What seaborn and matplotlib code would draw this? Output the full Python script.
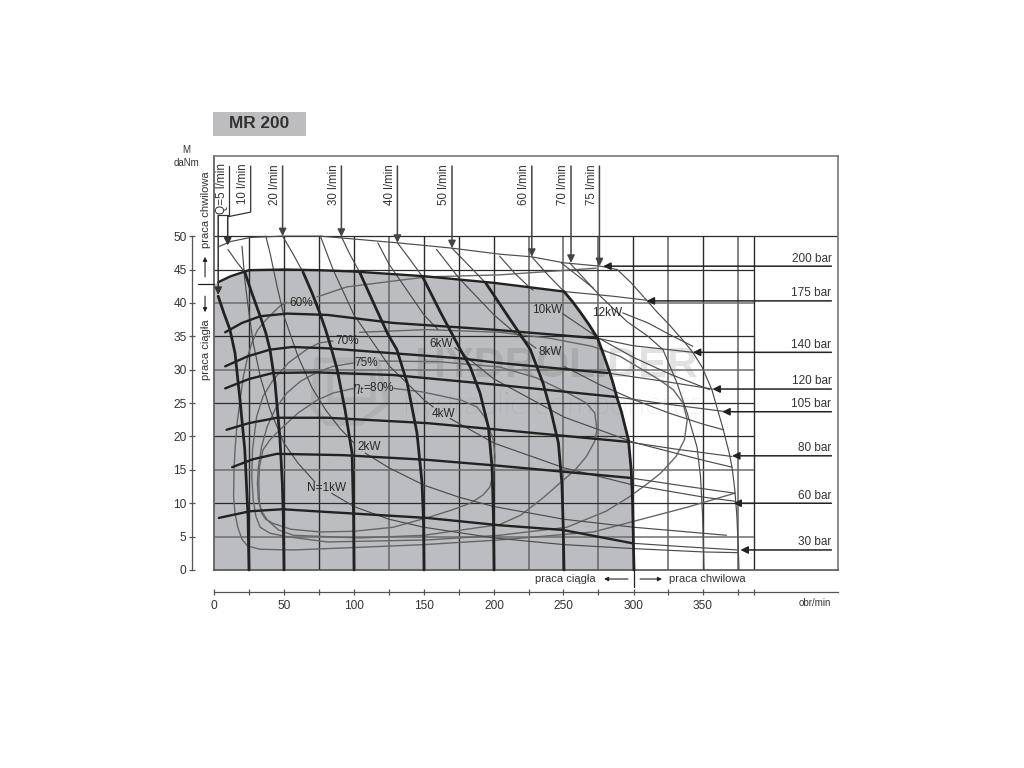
import matplotlib
matplotlib.use("Agg")
import matplotlib.pyplot as plt
import seaborn as sns

sns.set_theme(style="white")
plt.rcParams['font.family'] = ['Liberation Sans', 'DejaVu Sans']
plt.rcParams['mathtext.fontset'] = 'custom'
plt.rcParams['mathtext.it'] = 'DejaVu Sans:italic'
plt.rcParams['mathtext.rm'] = 'Liberation Sans'

TITLE = "MR 200"
X_MAX, Y_MAX = 445.7, 62
X_TICKS = [0, 50, 100, 150, 200, 249.5, 300, 349]
X_LABELS = ["0", "50", "100", "150", "200", "250", "300", "350"]
X_MINOR = [25, 75, 125, 175, 225, 274, 324, 374, 386]
Y_TICKS = [0, 5, 10, 15, 20, 25, 30, 35, 40, 45, 50]

# pressure curves, thick part inside the zone
p175_x = [3, 12, 25, 50, 75, 100, 150, 200, 250]
p175_y = [43.1, 44, 44.9, 45, 44.9, 44.7, 44, 43, 41.7]
p140_x = [8, 20, 33, 52, 81, 128, 199, 274]
p140_y = [35.6, 37, 38, 38.4, 38.2, 37, 36, 34.7]
p120_x = [8, 24, 40, 56, 81, 176, 204, 281]
p120_y = [30.5, 32, 33, 33.4, 33.2, 31.7, 31, 29.5]
p105_x = [8, 25, 42, 73, 128, 204, 288]
p105_y = [27.2, 28.6, 29.5, 29.6, 29.2, 27.7, 25.9]
p80_x = [9, 25, 45, 81, 152, 204, 295]
p80_y = [21, 22, 22.8, 22.8, 22, 21, 19.2]
p60_x = [13, 28, 45, 92, 152, 204, 297]
p60_y = [15.4, 16.6, 17.4, 17.2, 16.5, 15.6, 13.8]
p30_x = [3.5, 25.7, 49, 80, 152, 204, 249, 299]
p30_y = [7.8, 8.8, 9.1, 8.7, 7.8, 6.7, 6, 4]

# speed curves, thick
n5_x = [3, 7, 11.4, 15, 18.6, 22, 24.3, 25]
n5_y = [41, 38.5, 36, 32.5, 25.4, 18, 8, 0]
n50_x = [22, 27, 33, 37, 40, 43.6, 47, 48.8, 49.5, 50]
n50_y = [44.6, 41.5, 38, 35.5, 33, 28, 20, 13, 8, 0]
n100_x = [63.6, 70, 75.7, 80, 84, 88, 93.6, 98.6, 99.7, 100]
n100_y = [44.6, 41.5, 38.4, 35.8, 33, 30, 24, 17.5, 8, 0]
n150_x = [104, 115, 124, 130.6, 138, 145, 148.6, 149.7, 150]
n150_y = [44.6, 39.5, 35.4, 33, 28, 20.5, 13, 7, 0]
n200_x = [149, 162, 176, 183, 190, 196, 198.6, 199.6, 200]
n200_y = [43.9, 38.5, 33, 30.4, 26.5, 21.4, 15.4, 8, 0]
n250_x = [194, 210, 226, 235, 241, 246, 248.5, 249.5, 250]
n250_y = [43, 38, 33, 28, 23.5, 19, 13, 6, 0]
n300_x = [250, 256, 262, 268, 274, 278, 282, 285, 288, 291, 293, 296, 298, 299, 300]
n300_y = [41.7, 40.2, 38.5, 36.7, 34.7, 32.4, 30, 28, 25.7, 23.7, 22, 19.5, 15, 10, 0]

# shaded continuous-duty zone
zone_x = [0] + p175_x + n300_x[1:]
zone_y = [42.9] + p175_y + n300_y[1:]

# thin continuations of pressure curves
t200_x = [3, 12, 26, 49, 76, 131, 170, 204, 227, 250, 276, 288, 298, 309, 317, 324, 335, 342, 348.6, 355.6, 363.4, 368, 370, 372, 373.5, 374.5, 375]
t200_y = [48.4, 49.2, 49.8, 50, 50, 49, 48.2, 47.3, 46.9, 46, 45.5, 45, 43, 40.4, 38.5, 37, 34.4, 32.6, 30.4, 27, 21.3, 17.5, 15.4, 12, 8, 3, 0]
t175_x = [250, 285, 309]
t175_y = [41.7, 41, 40.4]
t140_x = [274, 299, 342]
t140_y = [34.7, 33.6, 32.6]
t120_x = [281, 320, 356]
t120_y = [29.5, 28.3, 27.1]
t105_x = [288, 325, 366]
t105_y = [25.9, 24.8, 23.7]
t80_x = [295, 330, 370]
t80_y = [19.2, 18.1, 17]
t60_x = [297, 335, 372]
t60_y = [13.8, 12.6, 11.5]
t30_x = [299, 335, 374]
t30_y = [4, 3.5, 3]

# thin flow curves above the zone
q10_x = [10, 16, 22]
q10_y = [48, 46.2, 44.6]
q20_x = [49, 56, 63.6]
q20_y = [50, 47.5, 44.6]
q30_x = [91, 97, 104]
q30_y = [49.9, 47.3, 44.6]
q40_x = [131, 140, 149]
q40_y = [49, 46.5, 43.9]
q50_x = [170, 182, 194]
q50_y = [48.2, 45.6, 43]
q60_x = [227, 238, 250]
q60_y = [46.9, 44.3, 41.7]
q70_x = [254, 276, 295, 310, 320.7, 330.7, 338, 345, 347.5, 349, 350]
q70_y = [46, 41, 37.2, 35, 33, 28, 23.5, 18.4, 14, 8, 0]

# power curves, thin, broken where a label sits
kw1a_x = [20, 22, 24, 28, 33, 40, 50, 60, 72]
kw1a_y = [48.5, 43.5, 40, 34, 29, 24, 19, 16, 13.2]
kw1b_x = [84, 100, 125, 150, 200, 250, 300, 350, 374]
kw1b_y = [11.5, 9.5, 7.6, 6.4, 4.8, 3.8, 3.2, 2.7, 2.6]
kw2a_x = [37, 40, 45, 50, 60, 70, 80, 90, 100]
kw2a_y = [50, 47.5, 42.5, 38, 32, 27.3, 23.9, 21.2, 19]
kw2b_x = [108, 125, 150, 175, 200, 250, 300, 366]
kw2b_y = [17.5, 15.3, 12.7, 10.9, 9.5, 7.6, 6.4, 5.2]
kw4a_x = [76, 85, 100, 125, 150, 156.6]
kw4a_y = [50, 45, 38.2, 30.6, 25.5, 24.4]
kw4b_x = [168.6, 200, 250, 300, 350, 372]
kw4b_y = [22.7, 19, 15.3, 12.7, 10.9, 10.3]
kw6a_x = [117, 125, 150, 160]
kw6a_y = [49, 45.8, 38.2, 36]
kw6b_x = [172, 200, 250, 300, 350, 370]
kw6b_y = [33.3, 28.6, 22.9, 19.1, 16.4, 15.4]
kw8a_x = [159, 175, 200, 215, 230]
kw8a_y = [48, 43.7, 38.2, 35.5, 33.2]
kw8b_x = [250, 275, 300, 325, 350, 364]
kw8b_y = [30.5, 27.8, 25.5, 23.5, 21.8, 21]
kw10a_x = [204, 215, 225, 228]
kw10a_y = [47, 44.4, 42.4, 41.9]
kw10b_x = [249, 275, 300, 325, 354]
kw10b_y = [38.4, 34.7, 31.8, 29.4, 27]
kw12a_x = [248, 262, 271]
kw12a_y = [46, 43.7, 42.2]
kw12b_x = [292, 310, 325, 342]
kw12b_y = [38.5, 37, 35.3, 33.5]

# efficiency curves
e60a_x = [52, 47, 42, 36, 31, 27, 24, 21, 18.6, 16.5, 15, 14.3, 14, 15, 17, 20, 24, 33, 56.6, 104, 150, 204, 271, 338, 372]
e60a_y = [40.1, 39.5, 38.5, 37.2, 35.9, 34, 31.9, 29, 25.4, 22, 18, 15, 11, 8.5, 6.4, 4.6, 3.6, 3.1, 3, 3.4, 3.8, 4.5, 5.7, 9.4, 11.5]
e60b_x = [73.6, 95, 152, 204, 273]
e60b_y = [40.9, 42.4, 43.9, 44.2, 45.2]
e70a_x = [85, 75, 66, 53, 42, 35, 30.5, 27.5, 27, 28, 30, 33, 40, 52, 81, 152, 204, 252, 280, 297, 310, 319, 330, 336, 338, 335, 328, 318, 306, 290, 270, 240, 204, 152, 104]
e70a_y = [34.3, 34, 33, 31, 28.4, 26, 23, 18, 14, 10.5, 8, 6.4, 5.5, 5, 4.2, 4.5, 5.2, 6.4, 8.8, 11, 13, 14.5, 17, 19.5, 22.5, 25, 27, 28.5, 30, 32, 33.5, 34.7, 35.6, 36, 35.6]
e75a_x = [99.6, 85, 73.6, 62, 52, 44, 38, 34, 31.7, 31, 31.7, 34, 38, 46, 56.6, 104, 150, 204, 219, 235, 247, 258, 266, 272, 273.5, 272, 266, 252, 230, 204, 160, 118]
e75a_y = [31, 30.5, 29.6, 28.3, 26.5, 24.2, 21.5, 18.5, 15.4, 13, 10.5, 8.8, 7.5, 6, 5.2, 4.8, 5.2, 6.8, 8.2, 10.8, 13, 15, 17, 19.3, 21, 23.5, 25, 26.6, 28.8, 30.4, 31.2, 31.3]
e80a_x = [99.6, 85, 73.3, 60, 47, 40, 35, 32.5, 32, 32.5, 34, 37, 42, 55, 76, 100, 128, 155, 170, 183, 192, 197, 200, 200.7, 199.5, 197, 193, 188, 177, 164, 148, 128]
e80a_y = [27.2, 26.5, 25.4, 23.5, 21, 19.5, 18, 15.5, 13, 10, 8.5, 7.6, 7, 6.1, 5.7, 5.8, 6.4, 8, 9, 10, 11.2, 12.4, 15, 17, 19.5, 21, 23, 24.4, 25.4, 26, 26.7, 27.2]

THICK_SPEED = [(n5_x, n5_y), (n50_x, n50_y), (n100_x, n100_y), (n150_x, n150_y),
               (n200_x, n200_y), (n250_x, n250_y), (n300_x, n300_y)]
THICK_PRESS = [(p175_x, p175_y), (p140_x, p140_y), (p120_x, p120_y), (p105_x, p105_y),
               (p80_x, p80_y), (p60_x, p60_y), (p30_x, p30_y)]
THIN = [(t200_x, t200_y), (t175_x, t175_y), (t140_x, t140_y), (t120_x, t120_y), (t105_x, t105_y),
        (t80_x, t80_y), (t60_x, t60_y), (t30_x, t30_y), (q10_x, q10_y), (q20_x, q20_y),
        (q30_x, q30_y), (q40_x, q40_y), (q50_x, q50_y), (q60_x, q60_y), (q70_x, q70_y),
        (kw1a_x, kw1a_y), (kw1b_x, kw1b_y), (kw2a_x, kw2a_y), (kw2b_x, kw2b_y),
        (kw4a_x, kw4a_y), (kw4b_x, kw4b_y), (kw6a_x, kw6a_y), (kw6b_x, kw6b_y),
        (kw8a_x, kw8a_y), (kw8b_x, kw8b_y), (kw10a_x, kw10a_y), (kw10b_x, kw10b_y),
        (kw12a_x, kw12a_y), (kw12b_x, kw12b_y)]
LOOPS = [(e60a_x, e60a_y), (e60b_x, e60b_y), (e70a_x, e70a_y), (e75a_x, e75a_y), (e80a_x, e80a_y)]

# flow arrows
flow_labels = ["20 l/min", "30 l/min", "40 l/min", "50 l/min", "60 l/min", "70 l/min", "75 l/min"]
flow_x = [49, 91, 131, 170, 227, 255, 275.3]
flow_tip = [50, 49.9, 49, 48.2, 46.9, 46, 45.5]
q5_path_x = [10.7, 10.7, 3, 3]
q5_path_y = [60.5, 53.1, 53.1, 41.2]
q10_path_x = [26.2, 26.2, 9.8, 9.8]
q10_path_y = [60.5, 53.6, 52.9, 48.6]

# pressure arrows
bar_labels = ["200 bar", "175 bar", "140 bar", "120 bar", "105 bar", "80 bar", "60 bar", "30 bar"]
bar_y = [45.5, 40.3, 32.6, 27.1, 23.7, 17.1, 10, 3]
bar_tip = [278, 309, 342, 356, 363, 370, 371, 376]

# curve labels
curve_labels = ["N=1kW", "2kW", "4kW", "6kW", "8kW", "10kW", "12kW", "60%", "70%", "75%", r"$\eta_t$=80%"]
curve_lab_x = [80.7, 110.7, 164, 162.5, 240, 238, 281, 62, 95, 109, 114]
curve_lab_y = [12.3, 18.4, 23.4, 33.8, 32.6, 39, 38.5, 40, 34.3, 31, 27.2]

# watermark
logo_x = [73.6, 116.4, 123.6, 104.3, 80.7, 70.7, 73.6]
logo_y = [31.4, 31.4, 25, 22, 22, 24.4, 31.4]
logo_in_x = [83, 113.6, 113.6, 83, 83]
logo_in_y = [29.5, 29.5, 25.4, 25.4, 29.5]

GRID_DARK_X = [25, 50, 75, 100, 150, 175, 200, 299, 349, 386]
GRID_GREY_X = [125, 225, 249.3, 274, 324, 374]
GRID_DARK_Y = [10, 20, 25, 35, 45, 50]
GRID_GREY_Y = [5, 15, 30, 40]

fig = plt.figure(figsize=(10.24, 7.68), dpi=100, facecolor="white")
ax = fig.add_axes([214 / 1024, 198 / 768, 624 / 1024, 414 / 768])
ax.set_xlim(0, X_MAX)
ax.set_ylim(0, Y_MAX)
ax.set_xticks([])
ax.set_yticks([])
for name, s in ax.spines.items():
    s.set_color("#777777" if name in ("top", "right") else "#555555")
    s.set_linewidth(1.2)
    s.set_visible(True)

DARK = "#2b2b2b"
GREY = "#6d6d6d"
ax.fill_between(zone_x, 0, zone_y, color="#bcbdc0", lw=0, zorder=1)

ax.text(244, 30.5, "HYDROLIDER", fontsize=31, weight="bold", color="#555555", alpha=0.17,
        ha="center", va="center", zorder=1.5)
ax.text(242, 24.7, "hydraulic components", fontsize=23, family="Lato", weight="light", color="#555555",
        alpha=0.24, ha="center", va="center", zorder=1.5)
for lx, ly in ((logo_x, logo_y), (logo_in_x, logo_in_y)):
    sns.lineplot(x=lx, y=ly, sort=False, estimator=None, color="#555555", lw=4, alpha=0.12, ax=ax, zorder=1.5)

for v in GRID_DARK_X:
    ax.vlines(v, 0, 50, color=DARK, lw=1.0, zorder=2)
for v in GRID_GREY_X:
    ax.vlines(v, 0, 50, color=GREY, lw=1.2, zorder=2)
for v in GRID_DARK_Y:
    ax.hlines(v, 0, 386, color=DARK, lw=0.9, zorder=2)
for v in GRID_GREY_Y:
    ax.hlines(v, 0, 386, color=GREY, lw=1.1, zorder=2)
ax.hlines(50, 386, X_MAX, color=DARK, lw=0.9, zorder=2)


def curve(pair, lw, color, z):
    line = sns.lineplot(x=pair[0], y=pair[1], sort=False, estimator=None, lw=lw, color=color, ax=ax, zorder=z)
    line.lines[-1].set_solid_joinstyle("round")
    line.lines[-1].set_clip_on(False)


for c in LOOPS:
    curve(c, 1.0, "#666666", 3)
for c in THIN:
    curve(c, 0.85, "#4c4c4c", 3.2)
for c in THICK_PRESS:
    curve(c, 1.7, "#222222", 4)
for c in THICK_SPEED:
    curve(c, 2.0, "#222222", 4.2)


def arrow(x0, y0, x1, y1, color="#222222", lw=1.1, scale=11):
    ax.annotate("", xy=(x1, y1), xytext=(x0, y0), annotation_clip=False, zorder=6,
                arrowprops=dict(arrowstyle="-|>", color=color, lw=lw, mutation_scale=scale,
                                shrinkA=0, shrinkB=0))


for lab, x, tip in zip(flow_labels, flow_x, flow_tip):
    arrow(x, 60.5, x, tip, color="#444444")
    ax.text(x - 1.2, 60.7, lab, rotation=90, ha="right", va="top", fontsize=8.3, color="#333333", zorder=7)

for path in ((q5_path_x, q5_path_y), (q10_path_x, q10_path_y)):
    ax.plot(path[0][:3], path[1][:3], color="#333333", lw=0.9, zorder=5, clip_on=False)
    arrow(path[0][2], path[1][2], path[0][3], path[1][3], color="#333333")
ax.text(9.7, 60.9, "Q=5 l/min", rotation=90, ha="right", va="top", fontsize=8.6, color="#333333")
ax.text(25.2, 60.9, "10 l/min", rotation=90, ha="right", va="top", fontsize=8.3, color="#333333")

for lab, y, tip in zip(bar_labels, bar_y, bar_tip):
    arrow(441, y, tip, y)
    ax.text(441, y + 0.25, lab, ha="right", va="bottom", fontsize=8.5, color="#333333", zorder=7)

for lab, x, y in zip(curve_labels, curve_lab_x, curve_lab_y):
    ax.text(x, y, lab, ha="center", va="center", fontsize=8.5, color="#2a2a2a", zorder=7)

# title box
fig.patches.append(plt.Rectangle((213 / 1024, 1 - 136 / 768), 93 / 1024, 24 / 768, transform=fig.transFigure,
                                 facecolor="#bdbdc0", edgecolor="none", figure=fig))
fig.text(259.5 / 1024, 1 - 124 / 768, TITLE, fontsize=12.4, weight="bold", color="#333333", ha="center", va="center")
fig.text(186 / 1024, 1 - 150 / 768, "M", fontsize=7, color="#333333", ha="center", va="center")
fig.text(186 / 1024, 1 - 163 / 768, "daNm", fontsize=7, color="#333333", ha="center", va="center")

# rulers
rul = fig.add_axes(ax.get_position(), facecolor="none")
rul.set_xlim(0, X_MAX)
rul.set_ylim(0, Y_MAX)
for name in ("top", "right"):
    rul.spines[name].set_visible(False)
rul.spines["left"].set_position(("outward", 15.8))
rul.spines["bottom"].set_position(("outward", 15.8))
rul.spines["left"].set_bounds(0, 50)
rul.spines["bottom"].set_bounds(0, X_MAX)
for s in ("left", "bottom"):
    rul.spines[s].set_color("#555555")
    rul.spines[s].set_linewidth(0.9)
rul.set_xticks(X_TICKS, X_LABELS)
rul.set_xticks(X_MINOR, minor=True)
rul.set_yticks(Y_TICKS)
rul.tick_params(axis="both", which="both", direction="inout", length=5, width=0.9, color="#555555",
                labelsize=8.6, labelcolor="#333333", left=True, bottom=True)
rul.tick_params(axis="x", pad=3)
rul.tick_params(axis="y", pad=1.5)
rul.patch.set_alpha(0)

ax.text(441, -4.9, "obr/min", ha="right", va="center", fontsize=7, color="#333333", clip_on=False)
ax.text(-5.7, 53.9, "praca chwilowa", rotation=90, ha="center", va="center", fontsize=8, color="#333333", clip_on=False)
ax.text(-5.7, 33, "praca ciągła", rotation=90, ha="center", va="center", fontsize=8, color="#333333", clip_on=False)
ax.plot([-11.4, 0], [42.8, 42.8], color="#222222", lw=0.9, clip_on=False, zorder=5)
arrow(-6.4, 43.9, -6.4, 46.9, scale=6, lw=0.8)
arrow(-6.4, 41, -6.4, 38.6, scale=6, lw=0.8)

ax.text(272.9, -1.35, "praca ciągła", ha="right", va="center", fontsize=8, color="#333333", clip_on=False)
ax.text(325, -1.35, "praca chwilowa", ha="left", va="center", fontsize=8, color="#333333", clip_on=False)
ax.plot([300, 300], [0, -2.6], color="#222222", lw=0.9, clip_on=False, zorder=5)
arrow(295.7, -1.35, 278.6, -1.35, scale=6, lw=0.8)
arrow(304.3, -1.35, 320, -1.35, scale=6, lw=0.8)

fig.savefig("out.png", dpi=100, facecolor="white")
